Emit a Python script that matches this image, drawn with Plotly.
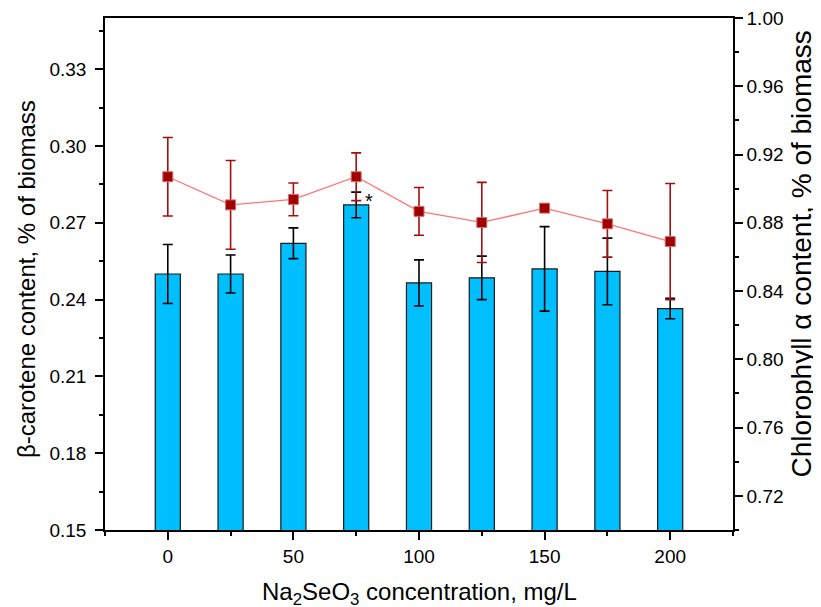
import plotly.graph_objects as go

conc = [0, 25, 50, 75, 100, 125, 150, 175, 200]
carotene = [0.250, 0.250, 0.262, 0.277, 0.2465, 0.2485, 0.252, 0.251, 0.2365]
carotene_err = [0.0115, 0.0074, 0.006, 0.005, 0.009, 0.0085, 0.0165, 0.013, 0.004]
chlorophyll = [0.907, 0.8905, 0.8937, 0.907, 0.8867, 0.8802, 0.8886, 0.8794, 0.869]
chlorophyll_err = [0.023, 0.026, 0.0096, 0.014, 0.014, 0.0235, 0.002, 0.0195, 0.034]

x_ticks = [0, 50, 100, 150, 200]
left_ticks = [0.15, 0.18, 0.21, 0.24, 0.27, 0.30, 0.33]
right_ticks = [0.72, 0.76, 0.80, 0.84, 0.88, 0.92, 0.96, 1.00]

FONT = "Liberation Sans, Arial, sans-serif"
TICK = 19

fig = go.Figure()
fig.add_trace(go.Bar(
    x=conc, y=carotene, width=10,
    marker=dict(color="#00bfff", line=dict(color="#1a1a1a", width=1.2)),
    error_y=dict(type="data", array=carotene_err, color="black", thickness=1.6, width=5),
    yaxis="y", showlegend=False,
))
fig.add_trace(go.Scatter(
    x=conc, y=chlorophyll, mode="lines+markers",
    line=dict(color="#ff7575", width=1.3),
    marker=dict(symbol="square", size=10, color="#a00000", line=dict(color="#d07070", width=1)),
    error_y=dict(type="data", array=chlorophyll_err, color="#a01010", thickness=1.6, width=5),
    yaxis="y2", showlegend=False,
))

fig.add_annotation(x=80, y=0.2785, xref="x", yref="y", text="*", showarrow=False,
                   font=dict(family=FONT, size=20, color="black"), yanchor="middle")

# axis titles
fig.add_annotation(x=-0.1258, y=0.49, xref="paper", yref="paper", xanchor="center", yanchor="middle",
                   text="β-carotene content, % of biomass", textangle=-90, showarrow=False,
                   font=dict(family=FONT, size=24, color="black"))
fig.add_annotation(x=1.109, y=0.539, xref="paper", yref="paper", xanchor="center", yanchor="middle",
                   text="Chlorophyll α content, % of biomass", textangle=-90, showarrow=False,
                   font=dict(family=FONT, size=28, color="black"))
fig.add_annotation(x=0.5, y=-0.089, xref="paper", yref="paper", xanchor="center", yanchor="top",
                   text="Na<sub>2</sub>SeO<sub>3</sub> concentration, mg/L", showarrow=False,
                   font=dict(family=FONT, size=24, color="black"))

axis_common = dict(showline=True, linecolor="black", linewidth=1.5, ticks="outside",
                   ticklen=8, tickwidth=1.5, tickcolor="black", showgrid=False, zeroline=False,
                   automargin=False, ticklabeloverflow="allow",
                   tickfont=dict(family=FONT, size=TICK, color="black"))
minor_common = dict(ticklen=4, tickwidth=1.5, tickcolor="black", ticks="outside")

fig.update_layout(
    width=813, height=599,
    margin=dict(l=97, r=88, t=10, b=77),
    paper_bgcolor="white", plot_bgcolor="white",
    xaxis=dict(range=[-25, 225], tickmode="array", tickvals=x_ticks, mirror=True,
               minor=dict(dtick=25, tick0=0, **minor_common), **axis_common),
    yaxis=dict(range=[0.15, 0.35], tickmode="array", tickvals=left_ticks, tickformat=".2f",
               ticklabelstandoff=5,
               minor=dict(dtick=0.015, tick0=0.15, **minor_common), **axis_common),
    yaxis2=dict(range=[0.70, 1.00], tickmode="array", tickvals=right_ticks, tickformat=".2f",
                overlaying="y", side="right", anchor="x",
                minor=dict(dtick=0.02, tick0=0.70, **minor_common), **axis_common),
)

fig.write_html("out.html")
